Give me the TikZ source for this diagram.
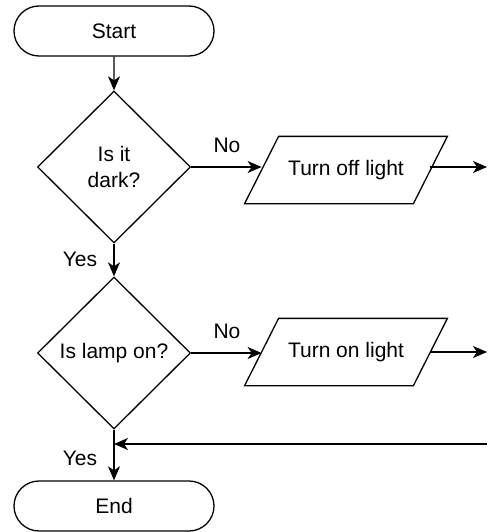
\documentclass[tikz,border=0pt]{standalone}
\usepackage{fontspec}
\setmainfont{Liberation Sans}
\usetikzlibrary{shapes.geometric,shapes.misc,arrows.meta,calc}
\begin{document}
\begin{tikzpicture}[x=1pt,y=-1pt,
  line width=1.3pt,
  every node/.style={font=\fontsize{21}{26}\selectfont, inner sep=0pt},
  term/.style={draw, rounded rectangle, minimum width=200pt, minimum height=50pt},
  decision/.style={draw, diamond, minimum width=153pt, minimum height=152pt, align=center},
  io/.style={minimum width=167.5pt, minimum height=66pt,
    append after command={
      \pgfextra{\draw ($(\tikzlastnode.north west)+(17pt,0)$) -- ($(\tikzlastnode.north east)+(17pt,0)$)
        -- ($(\tikzlastnode.south east)+(-17pt,0)$) -- ($(\tikzlastnode.south west)+(-17pt,0)$) -- cycle;}}},
  flow/.style={-{Stealth[length=14pt,width=12pt,inset=4pt]}},
  lbl/.style={}
]
\useasboundingbox (0,0) rectangle (487,532);
\node[term] (start) at (114,31) {Start};
\node[decision] (d1) at (114,167) {Is it\\dark?};
\node[decision] (d2) at (114,353) {Is lamp on?};
\node[term] (end) at (114,506) {End};
\node[io] (p1) at (346,170) {\raisebox{3pt}{Turn off light}};
\node[io] (p2) at (346,352) {Turn on light};
\coordinate (o1) at (487,167);
\coordinate (o2) at (487,352);
\coordinate (r) at (487,444);

\draw[flow] (start) -- (d1);
\draw[flow] (d1) -- (d2);
\draw[flow] (d2) -- (end);
\draw[flow] (d1.east) -- (p1.west |- d1.east);
\draw[flow] (d2.east) -- (p2.west |- d2.east);
\draw[flow] (p1.east |- o1) -- (o1);
\draw[flow] (p2.east |- o2) -- (o2);
\draw[flow] (r) -- (r -| d2.south);

\node[lbl] (no1) at (227,145) {No};
\node[lbl] (no2) at (227,331) {No};
\node[lbl] (yes1) at (80,259) {Yes};
\node[lbl] (yes2) at (80,458) {Yes};
\end{tikzpicture}
\end{document}
